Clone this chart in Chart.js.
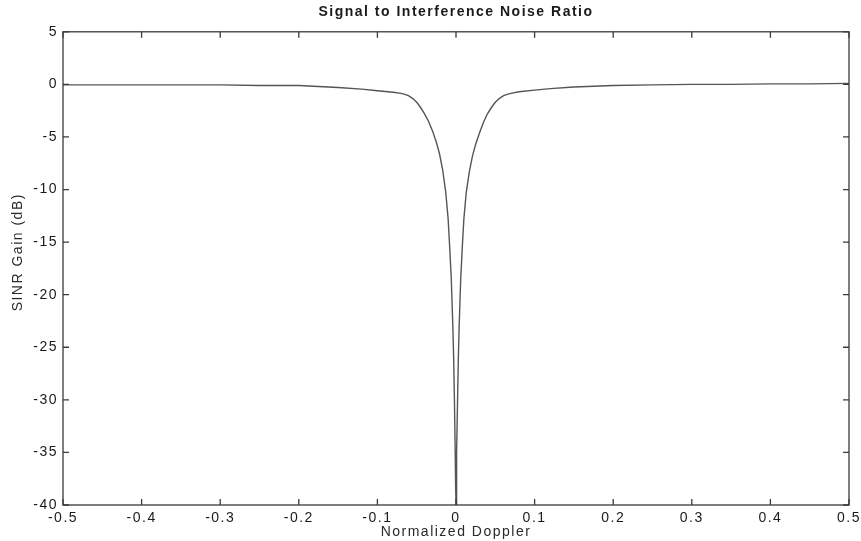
<!DOCTYPE html>
<html>
<head>
<meta charset="utf-8">
<script src="https://cdn.jsdelivr.net/npm/chart.js@4.4.1/dist/chart.umd.min.js"></script>
<style>
  html, body { margin: 0; padding: 0; background: #fff; }
  canvas { display: block; }
</style>
</head>
<body>
<canvas id="sinr" width="861" height="541"></canvas>
<script>
// normalized doppler (x) and SINR gain in dB (y)
const doppler = [
  -0.5, -0.45, -0.4, -0.35, -0.3, -0.25, -0.2, -0.15, -0.12, -0.1, -0.08, -0.07,
  -0.065, -0.06, -0.055, -0.05, -0.045, -0.04, -0.035, -0.03, -0.025, -0.021,
  -0.017, -0.013, -0.01, -0.008, -0.006, -0.004, -0.003, -0.002, -0.001, -0.0005,
  0,
  0.0005, 0.001, 0.002, 0.003, 0.004, 0.006, 0.008, 0.01, 0.013, 0.017, 0.021,
  0.025, 0.03, 0.035, 0.04, 0.045, 0.05, 0.055, 0.06, 0.065, 0.07, 0.08, 0.1,
  0.12, 0.15, 0.2, 0.25, 0.3, 0.35, 0.4, 0.45, 0.5
];
const sinrGain = [
  -0.05, -0.05, -0.05, -0.05, -0.05, -0.1, -0.1, -0.3, -0.45, -0.6, -0.75, -0.85,
  -0.95, -1.1, -1.35, -1.7, -2.2, -2.8, -3.5, -4.4, -5.5, -6.6,
  -8.1, -10.3, -12.8, -15.5, -18.5, -23, -26, -30, -35, -38,
  -40,
  -38, -35, -30, -26, -23, -18.5, -15.5, -12.8, -10.3, -8.3, -6.8,
  -5.7, -4.6, -3.6, -2.8, -2.2, -1.7, -1.35, -1.1, -0.95, -0.85, -0.7, -0.55,
  -0.4, -0.25, -0.1, -0.05, 0, 0, 0.05, 0.05, 0.1
];

const xTicks = [-0.5, -0.4, -0.3, -0.2, -0.1, 0, 0.1, 0.2, 0.3, 0.4, 0.5];
const xTickLabels = ['-0.5', '-0.4', '-0.3', '-0.2', '-0.1', '0', '0.1', '0.2', '0.3', '0.4', '0.5'];
const yTicks = [-40, -35, -30, -25, -20, -15, -10, -5, 0, 5];
const yTickLabels = ['-40', '-35', '-30', '-25', '-20', '-15', '-10', '-5', '0', '5'];

const ink = '#1a1a1a';
const face = 'Liberation Sans, Arial, sans-serif';

// stretched lettering like the scanned figure
const spacing = {
  id: 'spacing',
  beforeUpdate(chart) { chart.ctx.letterSpacing = '1.5px'; },
  beforeDraw(chart) {
    const ctx = chart.ctx;
    ctx.letterSpacing = '1.5px';
    ctx.save();
    ctx.fillStyle = '#fff';
    ctx.fillRect(0, 0, chart.width, chart.height);
    ctx.restore();
  }
};

// box round the plot with inward tick marks on all four sides
const frame = {
  id: 'frame',
  afterDatasetsDraw(chart) {
    const { ctx, chartArea: a, scales: { x, y } } = chart;
    ctx.save();
    ctx.strokeStyle = '#3a3a3a';
    ctx.lineWidth = 1.3;
    ctx.strokeRect(a.left, a.top, a.right - a.left, a.bottom - a.top);
    ctx.beginPath();
    xTicks.forEach(v => {
      const p = x.getPixelForValue(v);
      ctx.moveTo(p, a.bottom); ctx.lineTo(p, a.bottom - 6);
      ctx.moveTo(p, a.top); ctx.lineTo(p, a.top + 6);
    });
    yTicks.forEach(v => {
      const p = y.getPixelForValue(v);
      ctx.moveTo(a.left, p); ctx.lineTo(a.left + 6, p);
      ctx.moveTo(a.right, p); ctx.lineTo(a.right - 6, p);
    });
    ctx.stroke();
    ctx.restore();
  }
};

new Chart(document.getElementById('sinr'), {
  type: 'line',
  data: {
    datasets: [{
      data: doppler.map((d, i) => ({ x: d, y: sinrGain[i] })),
      borderColor: '#555',
      borderWidth: 1.4,
      pointRadius: 0,
      tension: 0,
      fill: false
    }]
  },
  options: {
    responsive: false,
    animation: false,
    layout: { padding: { top: 0, right: 12, bottom: 0, left: 0 } },
    plugins: {
      legend: { display: false },
      tooltip: { enabled: false },
      title: {
        display: true,
        fullSize: false,
        text: 'Signal to Interference Noise Ratio',
        color: ink,
        font: { family: face, size: 14, weight: 'bold' },
        padding: { top: 4, bottom: 11 }
      }
    },
    scales: {
      x: {
        type: 'linear',
        min: -0.5,
        max: 0.5,
        grid: { display: false, drawTicks: false },
        border: { display: false },
        afterBuildTicks: s => { s.ticks = xTicks.map(v => ({ value: v })); },
        afterFit: s => { s.height = 36; s.paddingLeft = 0; s.paddingRight = 0; },
        ticks: {
          color: ink,
          maxRotation: 0,
          padding: 5,
          font: { family: face, size: 14 },
          callback: (v, i) => xTickLabels[i]
        },
        title: {
          display: true,
          text: 'Normalized Doppler',
          color: '#2a2a2a',
          font: { family: face, size: 14 },
          padding: { top: 0, bottom: 0 }
        }
      },
      y: {
        min: -40,
        max: 5,
        grid: { display: false, drawTicks: false },
        border: { display: false },
        afterBuildTicks: s => { s.ticks = yTicks.map(v => ({ value: v })); },
        afterFit: s => { s.width = 63; s.paddingTop = 0; s.paddingBottom = 0; },
        ticks: {
          color: ink,
          padding: 5,
          font: { family: face, size: 14 },
          callback: (v, i) => yTickLabels[i]
        },
        title: {
          display: true,
          text: '      SINR Gain (dB)',
          color: '#2a2a2a',
          font: { family: face, size: 14 },
          padding: { top: 10, bottom: 0 }
        }
      }
    }
  },
  plugins: [spacing, frame]
});
</script>
</body>
</html>
